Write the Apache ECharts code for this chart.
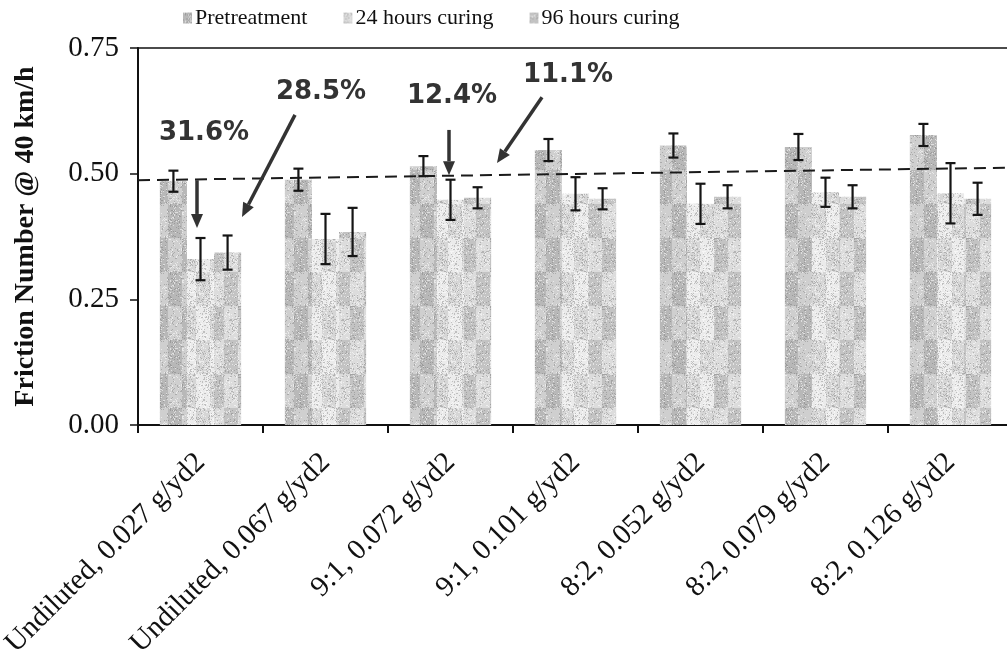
<!DOCTYPE html>
<html>
<head>
<meta charset="utf-8">
<script src="https://cdn.jsdelivr.net/npm/echarts@6/dist/echarts.min.js"></script>
<style>
  html, body { margin: 0; padding: 0; background: #fff; }
  #chart { width: 1007px; height: 660px; }
</style>
</head>
<body>
<div id="chart"></div>
<script>
// Friction number per treatment, before and after curing (mean ± error)
const categories = [
  'Undiluted, 0.027 g/yd2',
  'Undiluted, 0.067 g/yd2',
  '9:1, 0.072 g/yd2',
  '9:1, 0.101 g/yd2',
  '8:2, 0.052 g/yd2',
  '8:2, 0.079 g/yd2',
  '8:2, 0.126 g/yd2'
];
const seriesNames = ['Pretreatment', '24 hours curing', '96 hours curing'];

const pretreatment    = [0.485, 0.488, 0.515, 0.547, 0.556, 0.553, 0.577];
const pretreatmentErr = [0.021, 0.022, 0.020, 0.022, 0.024, 0.026, 0.022];
const cure24          = [0.330, 0.370, 0.448, 0.460, 0.440, 0.463, 0.461];
const cure24Err       = [0.042, 0.050, 0.040, 0.033, 0.040, 0.029, 0.060];
const cure96          = [0.343, 0.384, 0.452, 0.450, 0.454, 0.454, 0.450];
const cure96Err       = [0.034, 0.048, 0.021, 0.021, 0.023, 0.023, 0.032];

const yTicks = [0, 0.25, 0.50, 0.75];

// dashed trend across the pretreatment level (x in category units 0..7)
const trendLine = [[0, 0.487], [7, 0.512]];

// percentage drop call-outs (x in category units, y in friction number)
const callouts = [
  { text: '31.6%', at: [0.528, 0.581], from: [0.472, 0.487], to: [0.472, 0.392] },
  { text: '28.5%', at: [1.464, 0.662], from: [1.256, 0.617], to: [0.832, 0.414] },
  { text: '12.4%', at: [2.512, 0.654], from: [2.488, 0.587], to: [2.488, 0.497] },
  { text: '11.1%', at: [3.440, 0.696], from: [3.232, 0.652], to: [2.872, 0.521] }
];

const SERIF = '"Liberation Serif", "Times New Roman", serif';
const GROUP_FRACTION = 0.65;

// blocky halftone-like fill used by the bars
function hash(x, y, s) {
  let h = (x * 374761393 + y * 668265263 + s * 2246822519) | 0;
  h = (h ^ (h >>> 13)) * 1274126177 | 0;
  return ((h ^ (h >>> 16)) >>> 0) / 4294967295;
}
function makePattern(dark, light, cw, ch, seed, speck) {
  const c = document.createElement('canvas');
  c.width = cw * 2; c.height = ch * 2;
  const ctx = c.getContext('2d');
  for (let i = 0; i < 2; i++) {
    for (let j = 0; j < 2; j++) {
      ctx.fillStyle = (i + j) % 2 === 0 ? dark : light;
      ctx.fillRect(i * cw, j * ch, cw, ch);
    }
  }
  for (let x = 0; x < c.width; x++) {
    for (let y = 0; y < c.height; y++) {
      const r = hash(x, y, seed);
      if (r < speck) {
        ctx.fillStyle = 'rgba(90,90,90,0.3)';
        ctx.fillRect(x, y, 1, 1);
      } else if (r > 1 - speck) {
        ctx.fillStyle = 'rgba(255,255,255,0.55)';
        ctx.fillRect(x, y, 1, 1);
      }
    }
  }
  return { image: c, repeat: 'repeat' };
}

const fills = [
  makePattern('#b8b8b8', '#cfcfcf', 14, 34, 1, 0.10),
  makePattern('#d6d6d6', '#ebebeb', 14, 34, 2, 0.16),
  makePattern('#c3c3c3', '#dcdcdc', 14, 34, 3, 0.12)
];

function barSeries(idx, values) {
  return {
    name: seriesNames[idx],
    type: 'bar',
    data: values,
    barGap: '0%',
    barCategoryGap: '35%',
    itemStyle: { color: fills[idx] },
    silent: true,
    z: 2
  };
}

function errorSeries(slot, values, errs) {
  return {
    type: 'custom',
    data: values.map((v, i) => [i, v - errs[i], v + errs[i]]),
    encode: { x: 0, y: [1, 2] },
    silent: true,
    z: 5,
    renderItem(params, api) {
      const lo = api.coord([api.value(0), api.value(1)]);
      const hi = api.coord([api.value(0), api.value(2)]);
      const bw = api.size([1, 0])[0] * GROUP_FRACTION / 3;
      const x = lo[0] + slot * bw;
      const cap = 5;
      const st = { stroke: '#151515', lineWidth: 2.2 };
      return {
        type: 'group',
        children: [
          { type: 'line', shape: { x1: x, y1: lo[1], x2: x, y2: hi[1] }, style: st },
          { type: 'line', shape: { x1: x - cap, y1: lo[1], x2: x + cap, y2: lo[1] }, style: st },
          { type: 'line', shape: { x1: x - cap, y1: hi[1], x2: x + cap, y2: hi[1] }, style: st }
        ]
      };
    }
  };
}

const chart = echarts.init(document.getElementById('chart'), null, { renderer: 'canvas' });

chart.setOption({
  animation: false,
  backgroundColor: '#ffffff',
  legend: {
    data: seriesNames,
    left: 178,
    top: 2,
    icon: 'rect',
    itemWidth: 9,
    itemHeight: 11,
    itemGap: 36,
    textStyle: { fontFamily: SERIF, fontSize: 22, color: '#111', padding: [0, 0, 0, -2] }
  },
  grid: {
    left: 138,
    top: 48,
    width: 875,
    bottom: 235,
    outerBoundsMode: 'none',
    containLabel: false,
    show: true,
    borderColor: '#111',
    borderWidth: 1.5,
    backgroundColor: 'transparent'
  },
  xAxis: [
    {
      type: 'category',
      data: categories,
      axisLine: { lineStyle: { color: '#111', width: 2 } },
      axisTick: { show: true, length: 8, lineStyle: { color: '#111', width: 2 } },
      axisLabel: {
        interval: 0,
        rotate: 45,
        margin: 33,
        fontFamily: SERIF,
        fontSize: 29,
        color: '#111'
      },
      splitLine: { show: false }
    },
    {
      type: 'value',
      min: 0,
      max: 7,
      show: false
    }
  ],
  yAxis: {
    type: 'value',
    min: yTicks[0],
    max: yTicks[yTicks.length - 1],
    interval: 0.25,
    name: 'Friction Number @ 40 km/h',
    nameLocation: 'middle',
    nameGap: 98,
    nameRotate: 90,
    nameTextStyle: { fontFamily: SERIF, fontSize: 28, fontWeight: 'bold', color: '#111' },
    axisLine: { show: true, lineStyle: { color: '#111', width: 2 } },
    axisTick: { show: true, length: 8, lineStyle: { color: '#111', width: 1.5 } },
    axisLabel: {
      margin: 19,
      fontFamily: SERIF,
      fontSize: 29,
      color: '#111',
      formatter: v => v.toFixed(2)
    },
    splitLine: { show: false }
  },
  series: [
    barSeries(0, pretreatment),
    barSeries(1, cure24),
    barSeries(2, cure96),
    errorSeries(-1, pretreatment, pretreatmentErr),
    errorSeries(0, cure24, cure24Err),
    errorSeries(1, cure96, cure96Err),
    {
      type: 'line',
      xAxisIndex: 1,
      data: trendLine,
      symbol: 'none',
      silent: true,
      z: 6,
      lineStyle: { color: '#1a1a1a', width: 2, type: [12, 7] }
    }
  ]
});

// call-out arrows and percentages, placed in data space
function arrow(p0, p1) {
  const dx = p1[0] - p0[0], dy = p1[1] - p0[1];
  const len = Math.hypot(dx, dy);
  const ux = dx / len, uy = dy / len;
  const head = 14, half = 6;
  const bx = p1[0] - ux * head, by = p1[1] - uy * head;
  return [
    {
      type: 'line',
      shape: { x1: p0[0], y1: p0[1], x2: bx, y2: by },
      style: { stroke: '#333', lineWidth: 3.5 },
      z: 20
    },
    {
      type: 'polygon',
      shape: { points: [[p1[0], p1[1]], [bx - uy * half, by + ux * half], [bx + uy * half, by - ux * half]] },
      style: { fill: '#333' },
      z: 20
    }
  ];
}

const toPx = p => chart.convertToPixel({ xAxisIndex: 1, yAxisIndex: 0 }, p);
const graphics = [];
callouts.forEach(c => {
  const t = toPx(c.at);
  graphics.push({
    type: 'text',
    x: t[0],
    y: t[1],
    z: 20,
    style: {
      text: c.text,
      fill: '#333',
      font: 'bold 26px "DejaVu Sans", sans-serif',
      textAlign: 'center',
      textVerticalAlign: 'middle'
    }
  });
  graphics.push(...arrow(toPx(c.from), toPx(c.to)));
});
chart.setOption({ graphic: graphics });
</script>
</body>
</html>
